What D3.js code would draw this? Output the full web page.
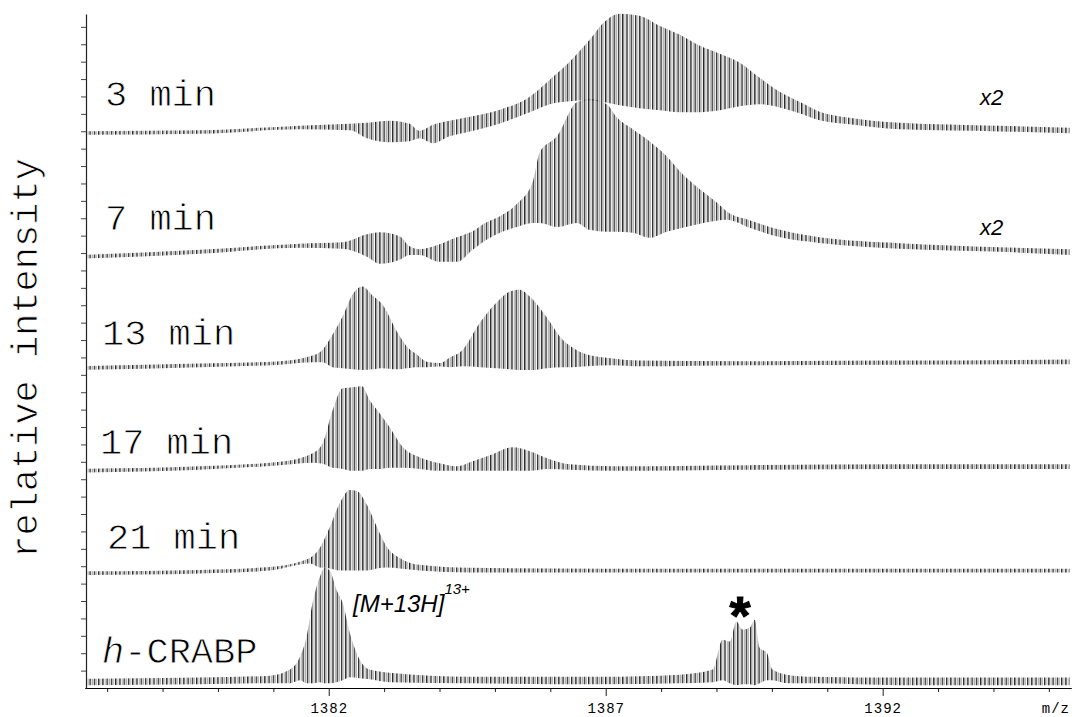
<!DOCTYPE html>
<html><head><meta charset="utf-8">
<script src="https://cdn.jsdelivr.net/npm/d3@7"></script>
<style>body{margin:0;background:#fff}svg{display:block}</style></head>
<body><svg id="c" width="1072" height="717"></svg>
<script>
// ---------- data ----------
const mzDomain = [1377.6, 1395.4];
const charge = 13;                       // isotope spacing = 1/charge m/z
const majorTicks = [1382, 1387, 1392];
const majorTickLabels = ["1382", "1387", "1392"];
const minorTicks = [1378,1379,1380,1381,1383,1384,1385,1386,1388,1389,1390,1391,1393,1394,1395];
const unitLabel = "m/z";
const yTitle = "relative intensity";
const traceNames = ["3 min", "7 min", "13 min", "17 min", "21 min", "h-CRABP"];
const traceScale = ["x2", "x2", "", "", "", ""];
const traceOffsets = [31.9, 24.8, 18.4, 12.5, 6.6, 0.29];

const mz3 = [1377.63,1379.67,1381.48,1382.38,1382.69,1383.10,1383.46,1383.64,1383.88,1384.18,1384.55,1385.09,1385.63,1385.99,1386.35,1386.71,1386.98,1387.25,1387.61,1387.97,1388.34,1388.70,1389.06,1389.42,1389.78,1390.14,1390.50,1390.86,1391.40,1392.31,1394.11,1395.38];
const hi3 = [0.09,0.14,0.40,0.52,0.57,0.69,0.52,0.11,0.46,0.69,0.92,1.32,2.07,3.05,4.08,5.34,6.38,6.84,6.72,6.15,5.63,5.00,4.54,4.02,3.16,2.36,1.78,1.21,0.86,0.57,0.40,0.29];
const lo3 = [-0.09,-0.03,0.23,0.17,-0.29,-0.52,-0.46,-0.29,-0.57,-0.17,0.11,0.57,1.21,1.67,1.84,1.90,1.78,1.61,1.44,1.32,1.21,1.21,1.32,1.55,1.67,1.49,1.15,0.75,0.52,0.23,0.11,0];

const mz7 = [1377.63,1379.67,1381.48,1382.25,1382.69,1382.92,1383.28,1383.46,1383.64,1384.00,1384.31,1384.60,1384.85,1385.09,1385.39,1385.68,1385.81,1386.12,1386.48,1386.71,1387.02,1387.20,1387.49,1387.79,1388.10,1388.39,1388.70,1389.00,1389.18,1389.60,1390.19,1390.86,1392.31,1394.11,1395.38];
const hi7 = [0.09,0.37,0.72,0.80,1.26,1.38,1.15,0.57,0.40,0.69,1.09,1.44,1.95,2.30,2.99,4.25,5.98,6.90,8.85,9.02,8.74,7.99,7.30,6.61,5.75,4.71,3.85,3.10,2.59,2.07,1.49,1.09,0.75,0.52,0.40];
const lo7 = [-0.09,0.17,0.52,0.46,0,-0.40,-0.17,0.11,0.11,-0.29,-0.29,0.40,0.98,1.38,1.72,1.95,1.95,1.72,1.95,1.55,1.44,1.44,1.38,1.09,1.44,1.67,1.90,2.07,2.13,1.67,1.09,0.80,0.46,0.29,0.11];

const mz13 = [1377.63,1379.67,1381.12,1381.71,1381.89,1382.07,1382.25,1382.43,1382.61,1382.79,1382.97,1383.23,1383.41,1383.59,1383.77,1384.00,1384.18,1384.42,1384.73,1385.03,1385.27,1385.45,1385.63,1385.94,1386.22,1386.40,1386.66,1387.13,1387.61,1389.60,1392.31,1395.38];
const hi13 = [0.09,0.23,0.37,0.69,1.03,1.90,2.93,4.20,4.66,4.14,3.62,2.07,1.21,0.75,0.34,0.26,0.57,1.03,2.59,3.74,4.37,4.48,4.08,2.87,1.61,1.15,0.75,0.52,0.40,0.37,0.40,0.46];
const lo13 = [-0.09,0.06,0.20,0.34,0.34,0.06,0,-0.06,-0.11,-0.06,0,-0.06,0,0.06,0.06,0.09,0.06,0.11,0.06,0,-0.06,-0.11,-0.11,0,0.06,0.06,0.11,0.17,0.11,0.17,0.20,0.23];

const mz17 = [1377.63,1379.67,1381.12,1381.71,1381.89,1382.07,1382.25,1382.43,1382.60,1382.74,1382.92,1383.10,1383.34,1383.64,1384.00,1384.31,1384.60,1384.91,1385.32,1385.63,1385.94,1386.35,1387.13,1389.60,1392.31,1395.38];
const hi17 = [0.09,0.23,0.49,0.98,1.55,3.45,4.71,4.77,4.83,4.02,3.28,2.47,1.32,0.75,0.40,0.23,0.52,0.86,1.32,1.09,0.69,0.34,0.23,0.29,0.34,0.34];
const lo17 = [-0.09,0.06,0.32,0.46,0.40,0.17,0.11,0,0,0.11,0.11,0.17,0.17,0.11,0,0,0,0,0,0,0.11,0.06,0,0.06,0.11,0.11];

const mz21 = [1377.63,1379.67,1380.94,1381.66,1381.84,1382.02,1382.20,1382.38,1382.51,1382.69,1382.87,1383.05,1383.28,1383.64,1384.55,1388.70,1395.38];
const hi21 = [0.09,0.17,0.34,0.86,1.44,2.64,4.02,4.77,4.71,3.91,2.64,1.49,0.86,0.46,0.29,0.23,0.23];
const lo21 = [-0.09,0,0.17,0.57,0.34,0.29,0.17,0.17,0.17,0.17,0.29,0.34,0.29,0.17,0.06,0.06,0.06];

const mzH = [1377.63,1379.67,1380.94,1381.30,1381.48,1381.60,1381.71,1381.84,1381.93,1382.02,1382.14,1382.25,1382.38,1382.56,1382.74,1383.10,1384.55,1386.89,1388.34,1388.93,1389.11,1389.24,1389.36,1389.47,1389.60,1389.69,1389.78,1389.91,1390.01,1390.27,1390.74,1392.31,1395.38];
const hiH = [0.23,0.29,0.40,0.75,1.49,2.64,4.60,6.09,6.61,6.44,5.34,4.60,2.87,1.32,0.75,0.57,0.34,0.34,0.46,0.75,2.47,2.36,3.51,3.05,3.16,3.62,2.01,1.72,0.75,0.46,0.34,0.29,0.29];
const loH = [-0.11,-0.06,0,0,0.17,0,0,0.06,0,0,0.06,0.17,0.34,0.29,0.23,0.06,0,-0.06,0,0.06,0.17,0,-0.11,-0.06,-0.06,-0.11,0,0.17,0.17,0,0,-0.11,-0.11];

const traceMz = [mz3, mz7, mz13, mz17, mz21, mzH];
const traceHi = [hi3, hi7, hi13, hi17, hi21, hiH];
const traceLo = [lo3, lo7, lo13, lo17, lo21, loH];

// ---------- layout / style ----------
const mono = "'Courier New', Courier, 'Nimbus Mono PS', 'Liberation Mono', monospace";
const sans = "Arial, Helvetica, 'Liberation Sans', sans-serif";
const labelPos = [[105,-27],[105,-27],[102,-23],[100,-17],[107,-24],[102,-20]];
const scalePos = [[980,-28],[980,-22]];

const svg = d3.select("#c");
const x = d3.scaleLinear().domain(mzDomain).range([85, 1071]);
const y = d3.scaleLinear().domain([0, 38.74]).range([688, 14]);

const period = x(mzDomain[0] + 1 / charge) - x(mzDomain[0]);
const defs = svg.append("defs");
const pat = defs.append("pattern").attr("id", "iso")
  .attr("patternUnits", "userSpaceOnUse")
  .attr("width", period).attr("height", 10);
pat.append("line").attr("x1", 0.7).attr("x2", 0.7).attr("y1", -1).attr("y2", 11)
  .attr("stroke", "#000").attr("stroke-width", 1.15);
pat.append("line").attr("x1", period / 2 + 0.7).attr("x2", period / 2 + 0.7).attr("y1", -1).attr("y2", 11)
  .attr("stroke", "#8a8a8a").attr("stroke-width", 0.8);

// traces
traceNames.forEach((name, i) => {
  const off = traceOffsets[i];
  const data = traceMz[i].map((m, j) => ({ m, hi: traceHi[i][j], lo: traceLo[i][j] }));
  const area = d3.area().x(d => x(d.m))
    .y0(d => y(off + d.lo) + 0.3).y1(d => y(off + d.hi) - 0.3).curve(d3.curveMonotoneX);
  svg.append("path").attr("d", area(data)).attr("fill", "url(#iso)");

  const t = svg.append("text")
    .attr("x", labelPos[i][0]).attr("y", y(off) + labelPos[i][1])
    .attr("font-family", mono).attr("font-size", 37).attr("fill", "#000")
    .attr("stroke", "#fff").attr("stroke-width", 0.8);
  if (name.startsWith("h-")) {
    t.append("tspan").attr("font-style", "italic").text("h");
    t.append("tspan").text(name.slice(1));
  } else t.text(name);

  if (traceScale[i]) {
    svg.append("text").attr("x", scalePos[i][0]).attr("y", y(off) + scalePos[i][1])
      .attr("font-family", sans).attr("font-style", "italic").attr("font-size", 22)
      .text(traceScale[i]);
  }
});

// peak annotations on h-CRABP
const ion = svg.append("text").attr("x", 353).attr("y", 612)
  .attr("font-family", sans).attr("font-style", "italic").attr("font-size", 24);
ion.append("tspan").text("[M+13H]");
ion.append("tspan").attr("font-size", 15).attr("dy", -18).text("13+");
svg.append("text").attr("x", 740).attr("y", 634).attr("text-anchor", "middle")
  .attr("font-family", sans).attr("font-weight", "bold").attr("font-size", 54)
  .attr("stroke", "#000").attr("stroke-width", 1).text("*");

// x axis
const gx = svg.append("g").attr("transform", `translate(0,${y(0)})`);
gx.call(d3.axisBottom(x).tickValues(minorTicks).tickSize(4).tickSizeOuter(0).tickFormat(""));
const gx2 = svg.append("g").attr("transform", `translate(0,${y(0)})`);
gx2.call(d3.axisBottom(x).tickValues(majorTicks).tickSize(8).tickSizeOuter(0)
  .tickFormat((d, i) => majorTickLabels[i]));
[gx, gx2].forEach(g => {
  g.select(".domain").attr("stroke", "#000").attr("stroke-width", 1.2);
  g.selectAll(".tick line").attr("stroke", "#222");
});
gx2.selectAll(".tick text").attr("font-family", mono).attr("font-size", 14)
  .attr("letter-spacing", 1).attr("fill", "#000").attr("y", 15).attr("dy", "0.71em");
svg.append("text").attr("x", 1070).attr("y", 713).attr("text-anchor", "end")
  .attr("font-family", mono).attr("font-size", 14).attr("letter-spacing", 1).text(unitLabel);

// y axis
const gy = svg.append("g").attr("transform", `translate(${x(mzDomain[0]) + 1},0)`);
gy.call(d3.axisLeft(y).tickValues(y.ticks(38).filter(v => v > 0)).tickSize(5).tickSizeOuter(0).tickFormat(""));
gy.select(".domain").attr("stroke", "#222").attr("stroke-width", 1.2);
gy.selectAll(".tick line").attr("stroke", "#444");

svg.append("text").attr("transform", "translate(37,358) rotate(-90)")
  .attr("text-anchor", "middle").attr("font-family", mono).attr("font-size", 37)
  .attr("stroke", "#fff").attr("stroke-width", 0.8)
  .text(yTitle);
</script></body></html>
